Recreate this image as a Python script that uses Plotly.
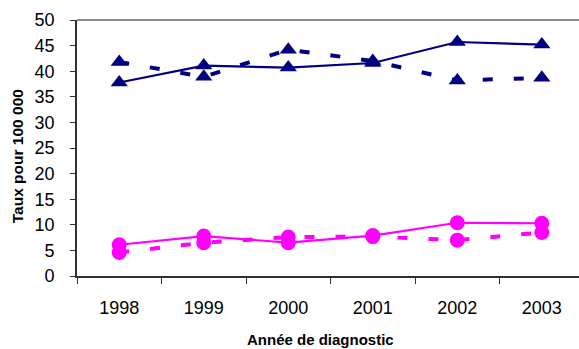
import plotly.graph_objects as go

# Année de diagnostic
annees = ["1998", "1999", "2000", "2001", "2002", "2003"]

# Taux pour 100 000 — série bleue (triangles)
bleu_plein = [37.8, 41.1, 40.7, 41.6, 45.7, 45.2]
bleu_tirets = [41.8, 38.9, 44.2, 42.0, 38.2, 38.7]

# Taux pour 100 000 — série magenta (cercles)
rose_plein = [6.1, 7.8, 6.5, 7.9, 10.4, 10.3]
rose_tirets = [4.6, 6.5, 7.6, 7.7, 7.0, 8.5]

y_ticks = list(range(0, 51, 5))

NAVY = "#000080"
MAGENTA = "#FF00FF"
FONT = "Liberation Sans, Arial, sans-serif"

fig = go.Figure()


def add_series(values, color, symbol, size, dashed):
    line = dict(color=color, width=4 if dashed else 2.2)
    if dashed:
        line["dash"] = "10px,21px"
    fig.add_trace(go.Scatter(
        x=annees, y=values, mode="lines+markers",
        line=line,
        marker=dict(symbol=symbol, size=size, color=color),
        showlegend=False, cliponaxis=False,
    ))


add_series(bleu_tirets, NAVY, "triangle-up", 15, True)
add_series(bleu_plein, NAVY, "triangle-up", 15, False)
add_series(rose_tirets, MAGENTA, "circle", 15, True)
add_series(rose_plein, MAGENTA, "circle", 15, False)

fig.update_layout(
    width=579, height=349,
    margin=dict(l=77, r=0, t=19.5, b=73),
    paper_bgcolor="white", plot_bgcolor="white",
    font=dict(family=FONT, color="black"),
    xaxis=dict(
        type="category", range=[-0.5, 5.44],
        showline=True, linecolor="#303030", linewidth=1.6,
        ticks="outside", tickson="boundaries", ticklen=6,
        tickcolor="#303030", tickwidth=1.2,
        showgrid=False, zeroline=False,
        tickfont=dict(size=18, family=FONT, color="black"),
        ticklabelstandoff=15,
    ),
    yaxis=dict(
        range=[0, 50], tickvals=y_ticks,
        showline=True, linecolor="#303030", linewidth=1.6,
        ticks="outside", ticklen=5, tickcolor="#303030", tickwidth=1.2,
        showgrid=False, zeroline=False,
        tickfont=dict(size=18, family=FONT, color="black"),
        ticklabelstandoff=12,
    ),
    shapes=[dict(
        type="line", xref="paper", yref="paper",
        x0=0, x1=1, y0=1, y1=1,
        line=dict(color="#8c8c8c", width=2),
    )],
    annotations=[
        dict(text="<b>Année de diagnostic</b>", xref="paper", yref="paper",
             x=(320 - 77) / (579 - 77), y=-(340 - 276) / (276 - 19.5),
             xanchor="center", yanchor="middle", showarrow=False,
             font=dict(size=15, family=FONT, color="black")),
        dict(text="<b>Taux pour 100 000</b>", xref="paper", yref="paper",
             x=-(77 - 17) / (579 - 77), y=(276 - 156) / (276 - 19.5),
             xanchor="center", yanchor="middle", textangle=-90,
             showarrow=False,
             font=dict(size=15.5, family=FONT, color="black")),
    ],
)

fig.write_html("out.html")
